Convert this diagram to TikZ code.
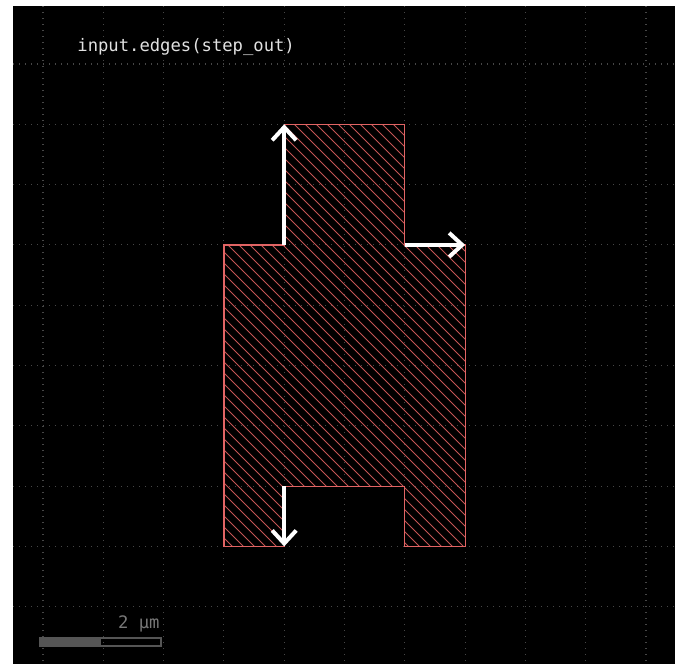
\documentclass[tikz,border=0pt]{standalone}
\usepackage{fontspec}
\setmonofont{DejaVu Sans Mono}
\usetikzlibrary{arrows.meta}
\definecolor{gridc}{RGB}{70,70,70}
\definecolor{hatchc}{RGB}{195,85,85}
\definecolor{edgec}{RGB}{225,100,100}
\definecolor{labelc}{RGB}{225,225,225}
\definecolor{barc}{RGB}{85,85,85}
\definecolor{bartext}{RGB}{120,120,120}
\tikzset{
  gridline/.style={gridc, line width=0.55pt, dash pattern=on 0.5pt off 2.5pt},
  hatchline/.style={hatchc, line width=0.45pt},
  outline/.style={edgec, line width=0.6pt},
  edgearrow/.style={white, line width=2pt, line cap=butt, -{Straight Barb[length=6.5pt,width=12pt,line width=2pt]}},
  lbl/.style={font=\ttfamily\fontsize{8.6}{10}\selectfont, inner sep=0pt},
}
\begin{document}
\begin{tikzpicture}[x=0.5pt,y=-0.5pt]
\useasboundingbox (0,0) rectangle (682,664);
\fill[white] (0,0) rectangle (682,664);
\fill[black] (13,6) rectangle (675,664);
% grid
\foreach \i in {0,...,10} {
  \draw[gridline] ({43+60.3*\i},6) -- ({43+60.3*\i},664);
}
\foreach \j in {0,...,9} {
  \draw[gridline] (13,{64+60.3*\j}) -- (675,{64+60.3*\j});
}
% polygon corners (grid units -> px)
\foreach \n/\a/\b in {p1/3/3,p2/4/3,p3/4/1,p4/6/1,p5/6/3,p6/7/3,p7/7/8,p8/6/8,p9/6/7,p10/4/7,p11/4/8,p12/3/8} {
  \coordinate (\n) at ({43+60.3*\a},{64+60.3*\b});
}
\begin{scope}
  \clip (p1) -- (p2) -- (p3) -- (p4) -- (p5) -- (p6) -- (p7) -- (p8) -- (p9) -- (p10) -- (p11) -- (p12) -- cycle;
  \foreach \c in {-600,-589,...,600} {
    \draw[hatchline] (\c,0) -- ({\c+700},700);
  }
\end{scope}
\draw[outline] (p1) -- (p2) -- (p3) -- (p4) -- (p5) -- (p6) -- (p7) -- (p8) -- (p9) -- (p10) -- (p11) -- (p12) -- cycle;
% edge arrows
\draw[edgearrow] (p2) -- (p3);
\draw[edgearrow] (p5) -- (p6);
\draw[edgearrow] (p10) -- (p11);
% title
\node[lbl, text=labelc, anchor=base west] (title) at (77,52) {input.edges(step\_out)};
% scale bar
\fill[barc] (40,638) rectangle (100.5,646);
\draw[barc, line width=0.6pt] (40,638) rectangle (161,646);
\node[lbl, text=bartext, anchor=base east] (scale) at (160,628) {2 µm};
\end{tikzpicture}
\end{document}
